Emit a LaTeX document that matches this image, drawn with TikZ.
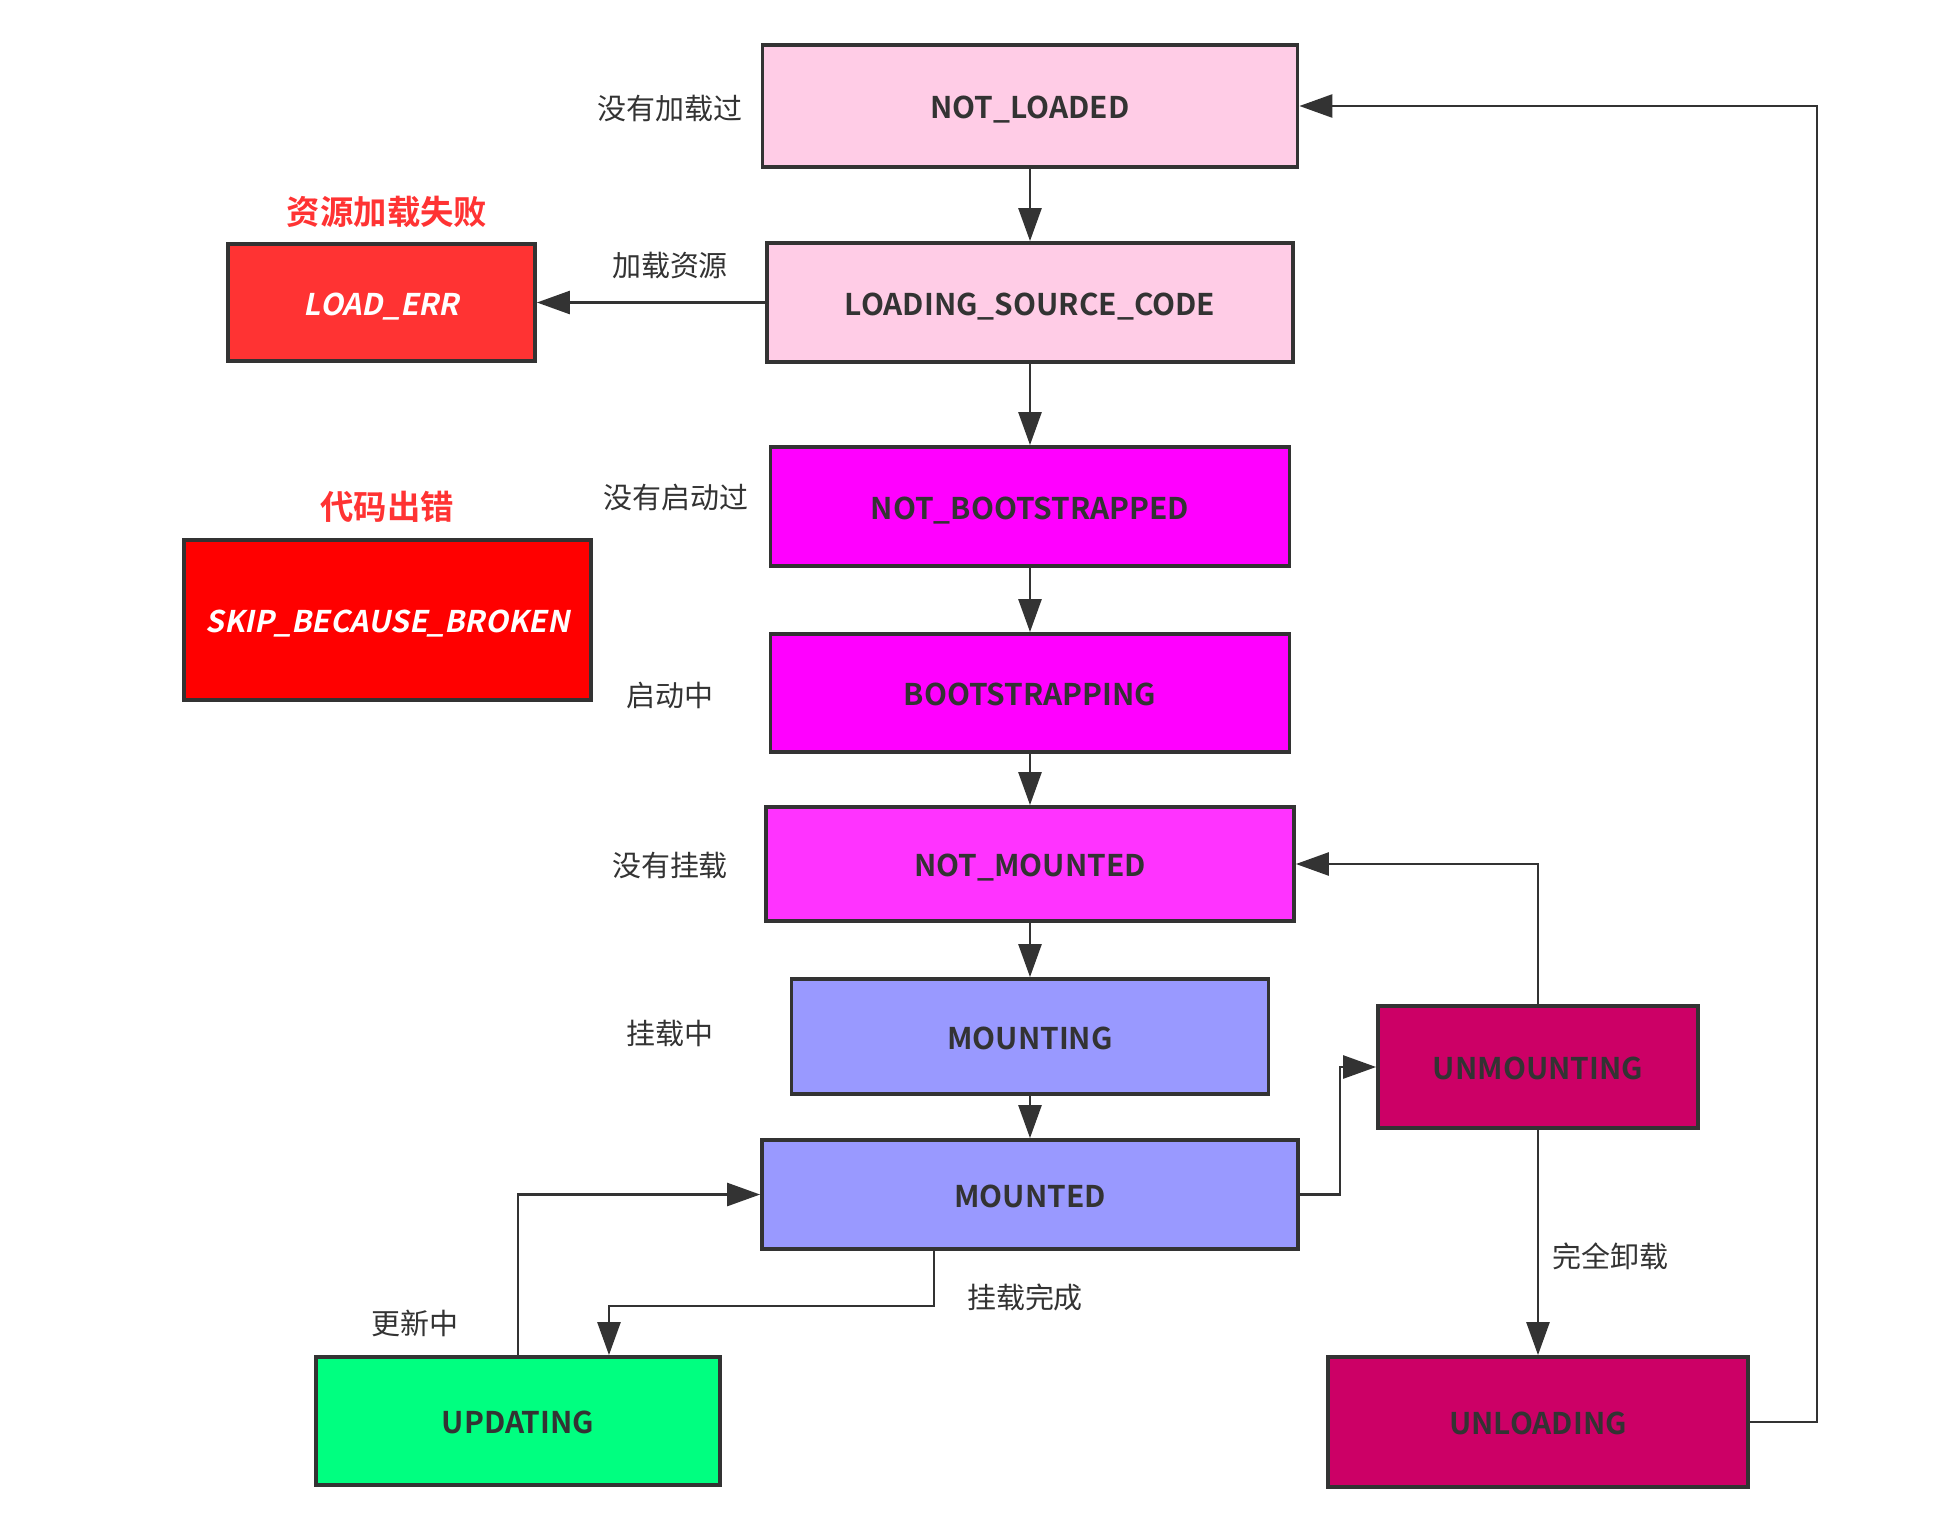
\documentclass[tikz,border=0pt]{standalone}
\usepackage{fontspec}
\setmainfont{Noto Sans CJK SC}[BoldFont=* Bold, ItalicFont=*, ItalicFeatures={FakeSlant=0.2}, BoldItalicFont=* Bold, BoldItalicFeatures={FakeSlant=0.2}]
\usetikzlibrary{arrows.meta}
\definecolor{lineg}{HTML}{333333}
\definecolor{palepink}{HTML}{FFCCE6}
\definecolor{errred}{HTML}{FF3333}
\definecolor{brokenred}{HTML}{FF0000}
\definecolor{boot}{HTML}{FF00FF}
\definecolor{mountpink}{HTML}{FF33FF}
\definecolor{mountblue}{HTML}{9999FF}
\definecolor{unmount}{HTML}{CC0066}
\definecolor{update}{HTML}{00FF80}
\definecolor{warnred}{HTML}{FF3333}

\begin{document}
\begin{tikzpicture}[x=0.02cm,y=-0.02cm,
	state/.style={draw=lineg,line width=2.2pt,text=lineg,text height=0.5cm,text depth=0pt,font=\bfseries\fontsize{17}{20}\selectfont},
	note/.style={text=lineg,font=\fontsize{16.5}{20}\selectfont},
	warn/.style={text=warnred,font=\bfseries\fontsize{19}{22}\selectfont},
	arr/.style={draw=lineg,line width=1.5pt,-{Triangle[length=0.66cm,width=0.46cm]}}]
			\useasboundingbox (0,0) rectangle (1952,1536);
			% states
			\node[state,fill=palepink,minimum width=10.7cm,minimum height=2.44cm] (notloaded) at (1030,106) {NOT\_LOADED};
			\node[state,fill=palepink,minimum width=10.52cm,minimum height=2.38cm] (loading) at (1030,302.5) {LOADING\_SOURCE\_CODE};
			\node[state,fill=errred,text=white,font=\bfseries\itshape\fontsize{17}{20}\selectfont,minimum width=6.14cm,minimum height=2.34cm] (loaderr) at (381.5,302.5) {LOAD\_ERR};
			\node[state,fill=boot,minimum width=10.38cm,minimum height=2.38cm] (notboot) at (1030,506.5) {NOT\_BOOTSTRAPPED};
			\node[state,fill=brokenred,text=white,font=\bfseries\itshape\fontsize{17}{20}\selectfont,minimum width=8.14cm,minimum height=3.2cm] (broken) at (387.5,620) {SKIP\_BECAUSE\_BROKEN};
			\node[state,fill=boot,minimum width=10.38cm,minimum height=2.36cm] (booting) at (1030,693) {BOOTSTRAPPING};
			\node[state,fill=mountpink,minimum width=10.56cm,minimum height=2.28cm] (notmounted) at (1030,864) {NOT\_MOUNTED};
			\node[state,fill=mountblue,minimum width=9.54cm,minimum height=2.3cm] (mounting) at (1030,1036.5) {MOUNTING};
			\node[state,fill=mountblue,minimum width=10.72cm,minimum height=2.18cm] (mounted) at (1030,1194.5) {MOUNTED};
			\node[state,fill=unmount,minimum width=6.4cm,minimum height=2.44cm] (unmounting) at (1538,1067) {UNMOUNTING};
			\node[state,fill=update,minimum width=8.08cm,minimum height=2.56cm] (updating) at (518,1421) {UPDATING};
			\node[state,fill=unmount,minimum width=8.4cm,minimum height=2.6cm] (unloading) at (1538,1422) {UNLOADING};

			% labels
			\node[note] (lbnotloaded) at (670,108) {没有加载过};
			\node[note] (lbloading) at (670,265) {加载资源};
			\node[warn] (lbloaderr) at (387,212) {资源加载失败};
			\node[note] (lbnotboot) at (676,497) {没有启动过};
			\node[warn] (lbbroken) at (387,507) {代码出错};
			\node[note] (lbbooting) at (670,695) {启动中};
			\node[note] (lbnotmounted) at (670,865) {没有挂载};
			\node[note] (lbmounting) at (670,1033) {挂载中};
			\node[note] (lbupdating) at (415,1323) {更新中};
			\node[note] (lbmounted) at (1025,1297) {挂载完成};
			\node[note] (lbunloading) at (1610,1256) {完全卸载};

			% connectors
			\draw[arr] (notloaded) -- (loading);
			\draw[arr] (loading.west) -- (loaderr.east);
			\draw[arr] (loading) -- (notboot);
			\draw[arr] (notboot) -- (booting);
			\draw[arr] (booting) -- (notmounted);
			\draw[arr] (notmounted) -- (mounting);
			\draw[arr] (mounting) -- (mounted);
			\draw[arr] (mounted.east) -- ++(40,0) |- (unmounting.west);
			\draw[arr] (unmounting.north) |- (notmounted.east);
			\draw[arr] (unmounting) -- (unloading);
			\draw[arr] (unloading.east) -- ++(67,0) |- (notloaded.east);
			\draw[arr] ([xshift=-1.92cm]mounted.south) -- ++(0,55) -| ([xshift=1.82cm]updating.north);
			\draw[arr] (updating.north) |- (mounted.west);
\end{tikzpicture}
\end{document}
